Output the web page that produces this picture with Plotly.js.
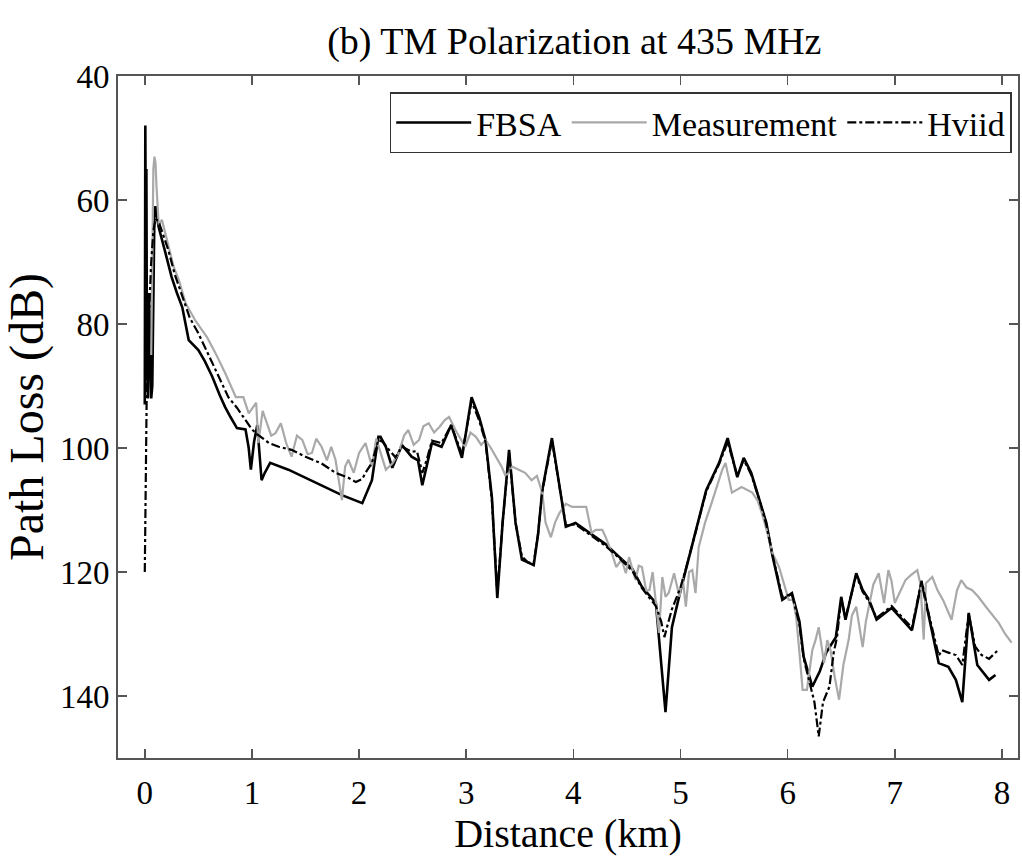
<!DOCTYPE html>
<html>
<head>
<meta charset="utf-8">
<script src="https://cdn.plot.ly/plotly-3.0.1.min.js"></script>
<style>html,body{margin:0;padding:0;background:#fff;}</style>
</head>
<body>
<div id="chart" style="width:1022px;height:867px;"></div>
<script>
// FBSA (distance km, path loss dB)
const fbsaX = [
  0, 0.005, 0.01, 0.015, 0.02, 0.03, 0.04, 0.05, 0.06, 0.07,
  0.08, 0.09, 0.1, 0.13, 0.2, 0.25, 0.3, 0.35, 0.41, 0.5,
  0.56, 0.63, 0.7, 0.75, 0.8, 0.86, 0.94, 0.97, 0.99, 1.02,
  1.05, 1.07, 1.09, 1.12, 1.17, 1.34, 1.59, 1.84, 2.03, 2.12,
  2.18, 2.2, 2.25, 2.31, 2.4, 2.49, 2.55, 2.59, 2.63, 2.68,
  2.77, 2.86, 2.96, 3.0, 3.05, 3.12, 3.18, 3.24, 3.29, 3.34,
  3.4, 3.46, 3.52, 3.58, 3.63, 3.67, 3.71, 3.8, 3.87, 3.93,
  4.02, 4.17, 4.3, 4.43, 4.55, 4.64, 4.72, 4.77, 4.86, 4.92,
  5.0, 5.05, 5.15, 5.24, 5.36, 5.44, 5.53, 5.59, 5.66, 5.73,
  5.8, 5.86, 5.95, 6.04, 6.11, 6.15, 6.23, 6.3, 6.36, 6.45,
  6.5, 6.54, 6.64, 6.7, 6.76, 6.83, 6.97, 7.07, 7.16, 7.25,
  7.32, 7.41, 7.5, 7.57, 7.63, 7.69, 7.77, 7.88, 7.94
];
const fbsaY = [
  93, 48, 70, 55, 85, 92, 75, 88, 92, 90,
  75, 62, 61, 64.4, 69, 72.4, 75, 77.3, 82.6, 84.2,
  86, 88.5, 91.5, 93.4, 95, 96.8, 97, 100, 103.5, 99,
  96.3, 101, 105.2, 104, 102.4, 103.5, 105.6, 107.6, 108.9, 105.2,
  98.2, 98.2, 99.8, 103.2, 99.5, 101.4, 102, 106, 103, 99.2,
  99.8, 96.3, 101.6, 97, 91.8, 95, 98.7, 108, 124.2, 112,
  100.3, 112, 118, 118.5, 118.9, 114, 106.8, 98.4, 106, 112.7,
  112.1, 114, 115.5, 117.6, 119.5, 122.4, 124, 125, 142.6, 128.9,
  123, 119.7, 113, 106.8, 102.4, 98.4, 104.7, 101.6, 104, 107.9,
  112, 117.5, 124.5, 123.4, 128, 133.7, 138.5, 136, 133, 130.5,
  124, 127.7, 120.2, 122.9, 124.5, 127.7, 125.8, 127.7, 129.4, 121.6,
  127.3, 134.7, 135.3, 137.4, 141, 126.6, 135, 137.4, 136.6
];

// Measurement
const measX = [
  0.06, 0.07, 0.08, 0.09, 0.1, 0.11, 0.13, 0.16, 0.2, 0.27,
  0.32, 0.38, 0.47, 0.58, 0.66, 0.75, 0.85, 0.92, 0.97, 1.04,
  1.06, 1.1, 1.13, 1.18, 1.22, 1.27, 1.32, 1.37, 1.42, 1.47,
  1.52, 1.56, 1.6, 1.65, 1.7, 1.74, 1.78, 1.84, 1.87, 1.9,
  1.95, 2.0, 2.06, 2.12, 2.16, 2.21, 2.25, 2.31, 2.37, 2.42,
  2.46, 2.51, 2.56, 2.6, 2.65, 2.7, 2.75, 2.8, 2.84, 2.9,
  2.95, 2.99, 3.04, 3.09, 3.14, 3.18, 3.23, 3.28, 3.33, 3.37,
  3.43, 3.49, 3.55, 3.61, 3.66, 3.71, 3.74, 3.79, 3.83, 3.87,
  3.93, 3.99, 4.05, 4.12, 4.17, 4.21, 4.27, 4.3, 4.36, 4.4,
  4.45, 4.49, 4.52, 4.58, 4.61, 4.64, 4.68, 4.71, 4.74, 4.77,
  4.8, 4.83, 4.86, 4.89, 4.94, 4.99, 5.02, 5.05, 5.08, 5.11,
  5.14, 5.17, 5.23, 5.29, 5.34, 5.39, 5.42, 5.48, 5.57, 5.62,
  5.67, 5.72, 5.76, 5.8, 5.86, 5.92, 6.01, 6.05, 6.08, 6.11,
  6.14, 6.18, 6.21, 6.23, 6.26, 6.29, 6.34, 6.37, 6.4, 6.44,
  6.48, 6.52, 6.57, 6.6, 6.64, 6.67, 6.7, 6.73, 6.76, 6.8,
  6.85, 6.88, 6.9, 6.94, 6.97, 7.0, 7.05, 7.1, 7.15, 7.21,
  7.24, 7.27, 7.29, 7.35, 7.4, 7.45, 7.53, 7.58, 7.62, 7.67,
  7.72, 7.78, 7.85, 7.91, 7.97, 8.03, 8.09
];
const measY = [
  85, 62, 55, 53, 54, 58, 64, 63.2, 66, 70.8,
  73, 76.6, 79.4, 82.1, 84.7, 87.9, 91.8, 91.8, 94.4, 92.7,
  99.2, 94, 95.5, 98, 97.6, 96, 99.2, 101.4, 98, 98.7,
  101, 100.8, 98.5, 99.8, 102, 99.8, 101.9, 108.4, 103, 101.9,
  104, 100.8, 99.2, 103, 98.5, 101.4, 103.5, 102.5, 100.8, 98,
  97.1, 99.5, 98.7, 96.5, 96, 97.5, 96.6, 95.5, 95, 97.1,
  98.5, 99.8, 97.5, 98.2, 99.5, 98.7, 100, 101.4, 103, 104.6,
  103, 103.5, 104, 105.2, 104.5, 107.2, 112, 114.4, 112, 110.5,
  109, 109.5, 109.5, 109.5, 113.7, 113.2, 113.2, 114.3, 117, 119.2,
  118, 120.2, 117.6, 121.3, 119, 119.2, 123, 122.9, 120, 125,
  129.8, 120.8, 124, 123.4, 120.2, 124, 121, 125.6, 120, 119.7,
  123.4, 116, 112, 108.9, 106, 103.5, 102.4, 107.2, 106.3, 106.8,
  107.2, 108.5, 110.5, 113, 117, 119.2, 124.5, 124.5, 127.3, 133,
  139, 139, 135, 132.6, 131, 128.9, 134.7, 131, 132.6, 137,
  140.6, 135, 130.9, 127, 125.6, 129, 132.1, 128, 125.6, 122,
  120.2, 123, 125, 119.7, 121.5, 125, 123, 121.3, 120.5, 119.7,
  122, 130.9, 121.8, 120.8, 123, 124.5, 127.7, 123, 121.3, 122.5,
  122.9, 124, 125.6, 127, 128.2, 130, 131.4
];

// Hviid
const hviidX = [
  0.0, 0.005, 0.01, 0.015, 0.02, 0.04, 0.06, 0.08, 0.1, 0.13,
  0.17, 0.22, 0.28, 0.35, 0.42, 0.5, 0.58, 0.66, 0.72, 0.78,
  0.86, 0.94, 1.0, 1.05, 1.16, 1.25, 1.37, 1.5, 1.65, 1.78,
  1.9, 1.97, 2.03, 2.06, 2.12, 2.18, 2.22, 2.28, 2.34, 2.4,
  2.49, 2.54, 2.59, 2.63, 2.68, 2.77, 2.86, 2.96, 3.0, 3.05,
  3.12, 3.18, 3.24, 3.29, 3.34, 3.4, 3.46, 3.52, 3.58, 3.63,
  3.67, 3.71, 3.8, 3.87, 3.93, 4.02, 4.17, 4.3, 4.43, 4.55,
  4.64, 4.72, 4.77, 4.82, 4.85, 4.88, 4.92, 5.0, 5.05, 5.15,
  5.24, 5.36, 5.44, 5.53, 5.59, 5.66, 5.73, 5.8, 5.86, 5.95,
  6.04, 6.11, 6.15, 6.2, 6.25, 6.29, 6.33, 6.39, 6.43, 6.46,
  6.5, 6.54, 6.64, 6.7, 6.76, 6.83, 6.97, 7.07, 7.16, 7.25,
  7.32, 7.41, 7.44, 7.5, 7.57, 7.63, 7.69, 7.75, 7.81, 7.88,
  7.97
];
const hviidY = [
  120, 112, 98, 92, 88, 78, 70, 65, 63, 63.5,
  65.5, 68.1, 72, 75.6, 79, 81.5, 84.5, 87.4, 89.5, 91.8,
  93.5, 95.5, 97, 97.8, 99.2, 99.8, 100.3, 101.4, 102.5, 104,
  104.8, 105.5, 105, 104, 102.4, 98.7, 99, 100.3, 101.5, 99.8,
  100.6, 100.5, 104, 102, 98.8, 99.2, 96.3, 101, 97.5, 92.5,
  95.5, 99, 108.5, 123.5, 112, 100.8, 112, 117.5, 118.5, 118.5,
  114, 107, 98.8, 106, 112.5, 112.3, 114.2, 115.8, 117.8, 119.8,
  122.6, 124.3, 125.5, 128, 130.5, 128.5, 126, 122.5, 119.5, 113,
  107, 102.6, 99, 104.5, 101.9, 104.3, 108, 112.3, 117.3, 124,
  123.6, 128.5, 134, 137.5, 141, 146.5, 141, 138.5, 133, 130.6,
  124.3, 127.4, 120.5, 123.2, 124.8, 127.4, 125.5, 127.3, 129, 121.4,
  127, 133.5, 132.6, 133, 133.4, 135, 126.8, 132, 133.4, 134,
  132.5
];

const xTicks = [0, 1, 2, 3, 4, 5, 6, 7, 8];
const yTicks = [40, 60, 80, 100, 120, 140];

const serif = '"Liberation Serif", "DejaVu Serif", serif';

const traces = [
  {x: fbsaX, y: fbsaY, name: 'FBSA', mode: 'lines',
   line: {color: '#000000', width: 2.6}},
  {x: measX, y: measY, name: 'Measurement', mode: 'lines',
   line: {color: '#a9a9a9', width: 2.2}},
  {x: hviidX, y: hviidY, name: 'Hviid', mode: 'lines',
   line: {color: '#000000', width: 2.2, dash: 'dashdot'}}
];

const axisCommon = {
  showgrid: false, zeroline: false, showline: true, mirror: 'ticks',
  linecolor: '#555555', linewidth: 2, ticks: 'inside', ticklen: 9,
  tickwidth: 1.5, tickcolor: '#555555',
  tickfont: {family: serif, size: 33, color: '#000'}
};

const layout = {
  width: 1022, height: 867,
  margin: {l: 118, r: 4, t: 76, b: 109},
  paper_bgcolor: '#fff', plot_bgcolor: '#fff',
  font: {family: serif},
  title: {text: '(b) TM Polarization at 435 MHz', font: {family: serif, size: 38, color: '#000'},
          x: 0.562, xref: 'container', y: 0.953, yref: 'container', yanchor: 'middle'},
  xaxis: Object.assign({}, axisCommon, {
    range: [-0.25, 8.15], tickvals: xTicks, ticktext: xTicks.map(String),
    ticklabelstandoff: 4,
    title: {text: 'Distance (km)', font: {family: serif, size: 40, color: '#000'}, standoff: 2}
  }),
  yaxis: Object.assign({}, axisCommon, {
    range: [150, 40], tickvals: yTicks, ticktext: yTicks.map(String),
    title: {text: 'Path Loss (dB)', font: {family: serif, size: 48, color: '#000'}, standoff: 2}
  }),
  showlegend: true,
  legend: {orientation: 'h', x: 0.993, xanchor: 'right', y: 0.976, yanchor: 'top',
           bgcolor: '#fff', bordercolor: '#333', borderwidth: 1.5, itemwidth: 75,
           font: {family: serif, size: 34, color: '#000'}}
};

Plotly.newPlot('chart', traces, layout, {staticPlot: true, displayModeBar: false});
</script>
</body>
</html>
